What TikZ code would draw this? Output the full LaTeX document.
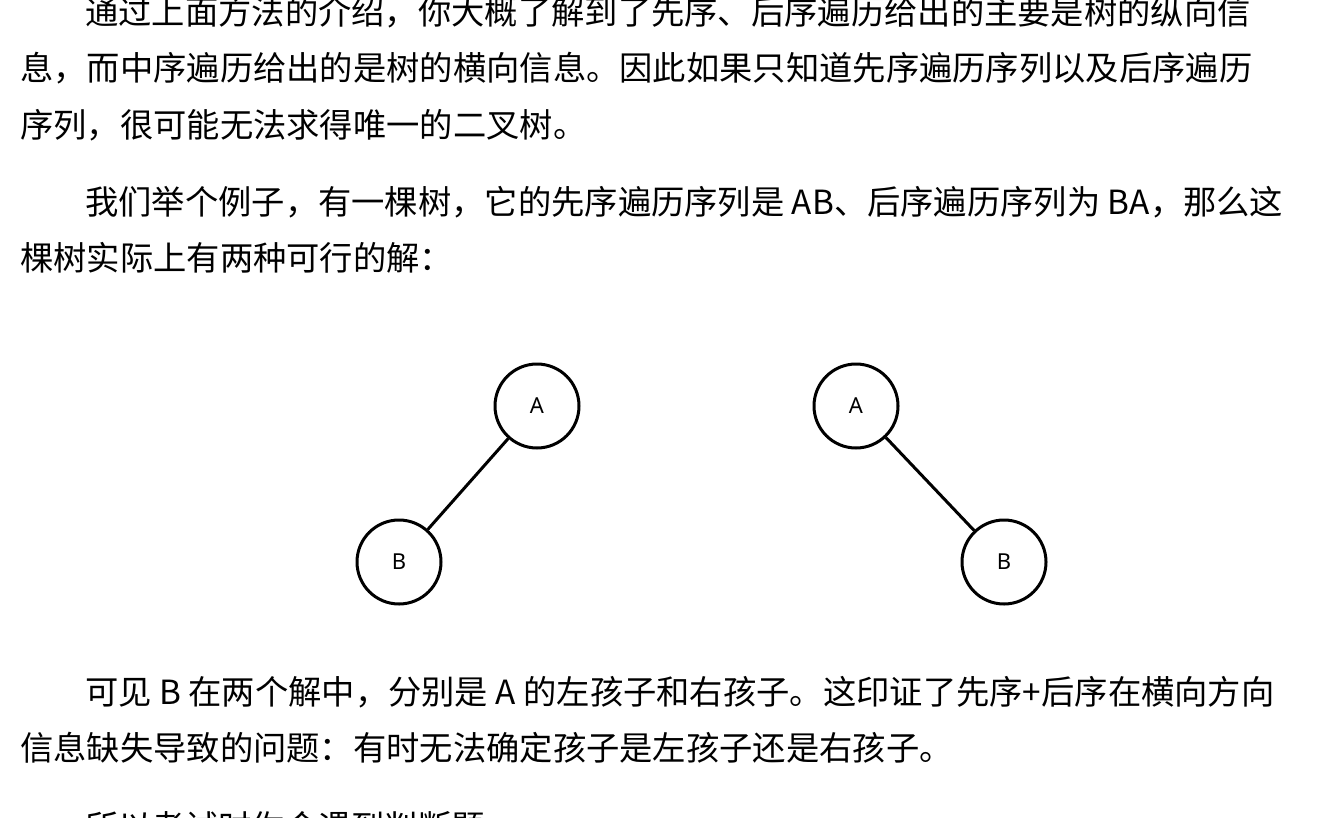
\documentclass[tikz,border=0pt]{standalone}
\usepackage{fontspec}
\setmainfont{Noto Sans CJK SC}
\newfontfamily\lab{Noto Sans}
\begin{document}
\begin{tikzpicture}[x=1pt,y=-1pt,
  txt/.style={anchor=west,inner sep=0pt,font=\fontsize{33.3}{33.3}\selectfont},
  circ/.style={circle,draw,line width=3pt,minimum size=84pt,inner sep=0pt,font=\lab\fontsize{22}{22}\selectfont},
  edge/.style={line width=3pt}]
\useasboundingbox (0,0) rectangle (1319,817);
\clip (0,0) rectangle (1319,817);
\node[txt] (l1) at (85,12) {通过上面方法的介绍，你大概了解到了先序、后序遍历给出的主要是树的纵向信};
\node[txt] (l2) at (20,68) {息，而中序遍历给出的是树的横向信息。因此如果只知道先序遍历序列以及后序遍历};
\node[txt] (l3) at (20,125) {序列，很可能无法求得唯一的二叉树。};
\node[txt] (l4) at (85,202) {我们举个例子，有一棵树，它的先序遍历序列是 AB、后序遍历序列为 BA，那么这};
\node[txt] (l5) at (20,258) {棵树实际上有两种可行的解：};
\node[circ] (a1) at (537,406) {A};
\node[circ] (b1) at (399,562) {B};
\node[circ] (a2) at (856,406) {A};
\node[circ] (b2) at (1004,562) {B};
\draw[edge] (a1) -- (b1);
\draw[edge] (a2) -- (b2);
\node[txt] (l6) at (85,692) {可见 B 在两个解中，分别是 A 的左孩子和右孩子。这印证了先序+后序在横向方向};
\node[txt] (l7) at (20,748) {信息缺失导致的问题：有时无法确定孩子是左孩子还是右孩子。};
\node[txt] (l8) at (85,827) {所以考试时你会遇到判断题};
\end{tikzpicture}
\end{document}
